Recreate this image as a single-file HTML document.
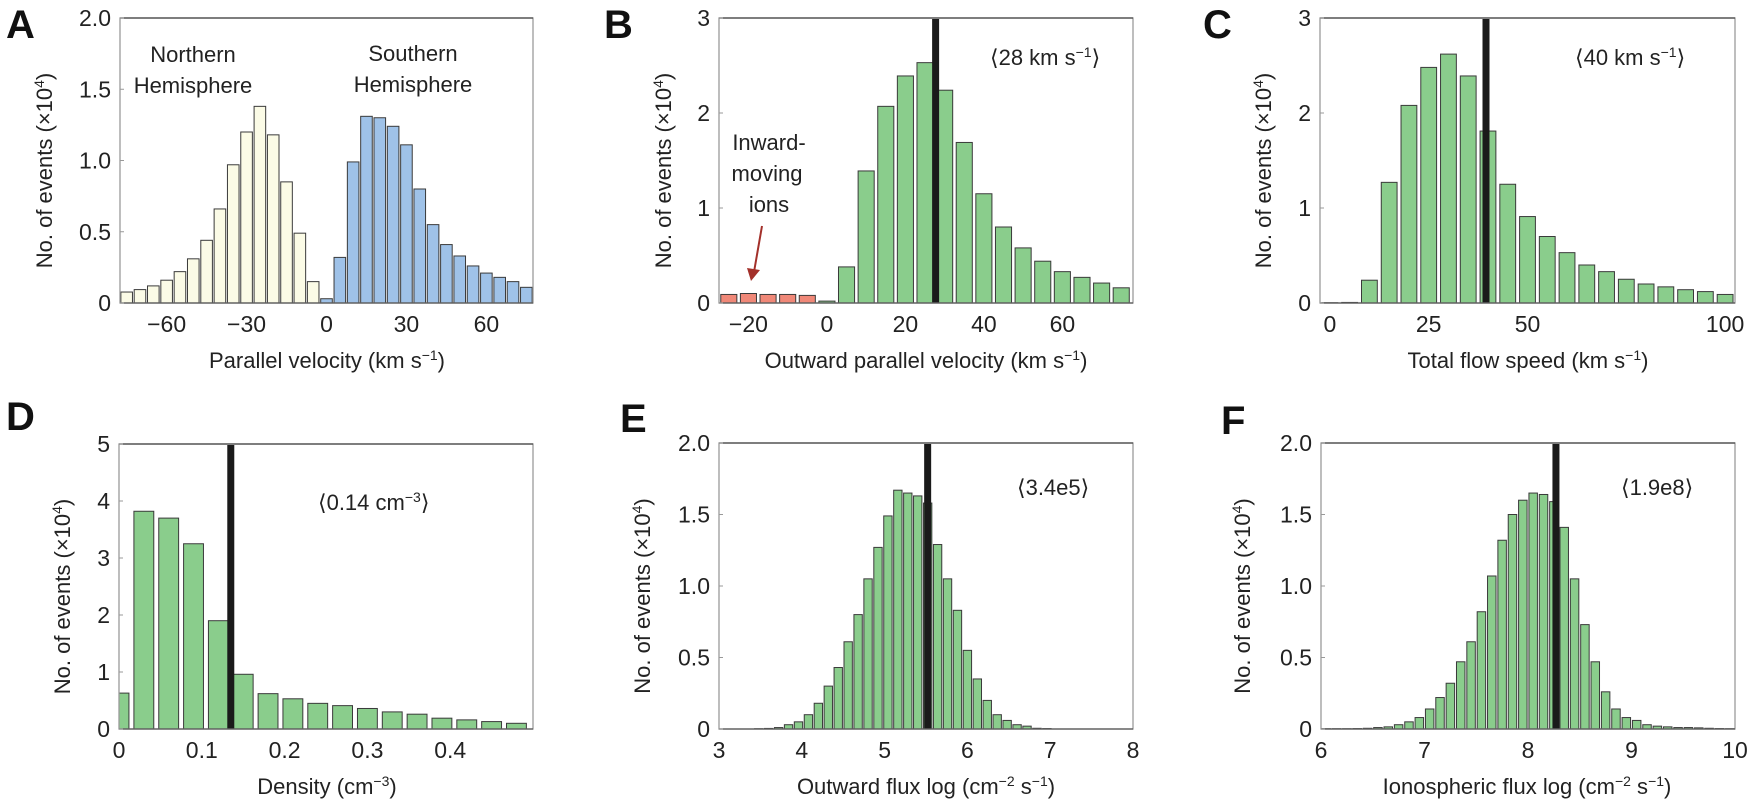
<!DOCTYPE html>
<html><head><meta charset="utf-8"><style>
html,body{margin:0;padding:0;background:#fff;}
svg{display:block;font-family:"Liberation Sans","DejaVu Sans",sans-serif;}
</style></head><body>
<svg id="fig" width="1748" height="804" viewBox="0 0 1748 804" xmlns="http://www.w3.org/2000/svg">
  <g font-size="22" fill="#222">
    <text x="193" y="62" text-anchor="middle">Northern</text>
    <text x="193" y="93" text-anchor="middle">Hemisphere</text>
    <text x="413" y="61" text-anchor="middle">Southern</text>
    <text x="413" y="92" text-anchor="middle">Hemisphere</text>
    <text x="769" y="150" text-anchor="middle">Inward-</text>
    <text x="767" y="181" text-anchor="middle">moving</text>
    <text x="769" y="212" text-anchor="middle">ions</text>
  </g>
  <g>
    <line x1="762" y1="226" x2="754" y2="272" stroke="#a3302a" stroke-width="2"/>
    <polygon points="747,268 760,270 751,281" fill="#a3302a"/>
  </g>
</svg>
<script>
// Panel A
const aNorthBins=[-75,-70,-65,-60,-55,-50,-45,-40,-35,-30,-25,-20,-15,-10,-5];
const aNorthCounts=[0.077,0.094,0.12,0.16,0.22,0.31,0.44,0.66,0.97,1.20,1.38,1.18,0.85,0.49,0.15];
const aSouthBins=[0,5,10,15,20,25,30,35,40,45,50,55,60,65,70,75];
const aSouthCounts=[0.03,0.32,0.99,1.31,1.30,1.24,1.11,0.80,0.55,0.41,0.33,0.26,0.21,0.18,0.15,0.11];
const aXTicks=[-60,-30,0,30,60];
const aYTicks=[0,0.5,1.0,1.5,2.0];
const aYLabels=["0","0.5","1.0","1.5","2.0"];
// Panel B
const bInwardBins=[-25,-20,-15,-10,-5];
const bInwardCounts=[0.09,0.10,0.09,0.09,0.08];
const bOutwardBins=[0,5,10,15,20,25,30,35,40,45,50,55,60,65,70,75];
const bOutwardCounts=[0.02,0.38,1.39,2.07,2.39,2.53,2.24,1.69,1.15,0.80,0.58,0.44,0.33,0.27,0.21,0.16];
const bMean=[27.7];
const bXTicks=[-20,0,20,40,60];
const bYTicks=[0,1,2,3];
// Panel C
const cBins=[0,5,10,15,20,25,30,35,40,45,50,55,60,65,70,75,80,85,90,95,100];
const cCounts=[0.003,0.006,0.24,1.27,2.08,2.48,2.62,2.39,1.81,1.25,0.91,0.70,0.53,0.40,0.33,0.25,0.20,0.17,0.14,0.12,0.09];
const cMean=[39.5];
const cXTicks=[0,25,50,100];
const cYTicks=[0,1,2,3];
// Panel D
const dBins=[0,0.03,0.06,0.09,0.12,0.15,0.18,0.21,0.24,0.27,0.30,0.33,0.36,0.39,0.42,0.45,0.48];
const dCounts=[0.63,3.82,3.70,3.25,1.90,0.96,0.62,0.53,0.45,0.41,0.36,0.30,0.26,0.19,0.16,0.13,0.10];
const dMean=[0.135];
const dXTicks=[0,0.1,0.2,0.3,0.4];
const dYTicks=[0,1,2,3,4,5];
// Panel E
const eBins=[3.48,3.60,3.72,3.84,3.96,4.08,4.20,4.32,4.44,4.56,4.68,4.80,4.92,5.04,5.16,5.28,5.40,5.52,5.64,5.76,5.88,6.00,6.12,6.24,6.36,6.48,6.60,6.72,6.84,6.96];
const eCounts=[0.002,0.004,0.01,0.03,0.05,0.10,0.18,0.30,0.43,0.61,0.80,1.05,1.27,1.49,1.67,1.65,1.63,1.58,1.29,1.05,0.83,0.55,0.35,0.20,0.10,0.06,0.03,0.02,0.005,0.003];
const eMean=[5.52];
const eXTicks=[3,4,5,6,7,8];
const eYTicks=[0,0.5,1.0,1.5,2.0];
const eYLabels=["0","0.5","1.0","1.5","2.0"];
// Panel F
const fBins=[6.05,6.15,6.25,6.35,6.45,6.55,6.65,6.75,6.85,6.95,7.05,7.15,7.25,7.35,7.45,7.55,7.65,7.75,7.85,7.95,8.05,8.15,8.25,8.35,8.45,8.55,8.65,8.75,8.85,8.95,9.05,9.15,9.25,9.35,9.45,9.55,9.65,9.75,9.85,9.95];
const fCounts=[0.002,0.002,0.002,0.003,0.005,0.01,0.015,0.03,0.05,0.08,0.14,0.22,0.32,0.47,0.61,0.82,1.07,1.32,1.50,1.60,1.65,1.64,1.59,1.41,1.05,0.73,0.47,0.26,0.14,0.08,0.06,0.03,0.02,0.015,0.01,0.01,0.008,0.005,0.003,0.002];
const fMean=[8.27];
const fXTicks=[6,7,8,9,10];
const fYTicks=[0,0.5,1.0,1.5,2.0];

const NS="http://www.w3.org/2000/svg";
const svg=document.getElementById('fig');
function mk(tag,attrs,parent){const e=document.createElementNS(NS,tag);for(const k in attrs)e.setAttribute(k,attrs[k]);(parent||svg).appendChild(e);return e;}

function panel(p){
  const g=mk('g',{});
  
  
  const xs=v=>p.L+(v-p.d0)/(p.d1-p.d0)*(p.R-p.L);
  const ys=v=>p.B-v/p.ymax*(p.B-p.T);
  const clip=mk('clipPath',{id:'clip'+p.id},g);
  mk('rect',{x:p.L,y:p.T,width:p.R-p.L,height:p.B-p.T},clip);
  const bars=mk('g',{'clip-path':'url(#clip'+p.id+')'},g);
  p.series.forEach(s=>{
    s.bins.forEach((c,i)=>{
      const x0=xs(c-p.bw*p.frac/2),x1=xs(c+p.bw*p.frac/2);
      const r=mk('rect',{x:x0,y:ys(s.vals[i]),width:x1-x0,height:Math.max(0.5,p.B-ys(s.vals[i])),fill:s.fill,stroke:'#3a3a3a','stroke-width':1},bars);
      
      
    });
  });
  if(p.mean){p.mean.forEach(m=>{
    const ml=mk('rect',{x:xs(m)-3.5,y:p.T+1,width:7,height:p.B-p.T-1,fill:'#1a1a1a'},g);
    
    
  });}
  const fr=mk('rect',{x:p.L,y:p.T,width:p.R-p.L,height:p.B-p.T,fill:'none',stroke:'#9a9a9a','stroke-width':1.3},g);
  
  
  mk('line',{x1:p.L,x2:p.R,y1:p.T,y2:p.T,stroke:'#444','stroke-width':1.3},g);
  mk('line',{x1:p.L,x2:p.R,y1:p.B,y2:p.B,stroke:'#555','stroke-width':1.3},g);
  p.yt.forEach((v,i)=>{
    mk('line',{x1:p.L,x2:p.L+4,y1:ys(v),y2:ys(v),stroke:'#999','stroke-width':1},g);
    const t=mk('text',{x:p.L-9,y:ys(v)+8,'text-anchor':'end','font-size':23,fill:'#222'},g);
    t.textContent=p.yl?p.yl[i]:String(v);
    
    
  });
  p.xt.forEach(v=>{
    const t=mk('text',{x:xs(v),y:p.B+29,'text-anchor':'middle','font-size':23,fill:'#222'},g);
    t.textContent=(v<0?'\u2212'+(-v):String(v));
    
    
  });
  const yt=mk('text',{x:0,y:0,transform:'translate('+p.ytx+','+((p.T+p.B)/2+10)+') rotate(-90)','text-anchor':'middle','font-size':22,fill:'#222'},g);
  yt.innerHTML='No. of events (\u00d710<tspan dy="-8" font-size="14">4</tspan><tspan dy="8">)</tspan>';
  
  
  const xt=mk('text',{x:p.xtx,y:p.B+65,'text-anchor':'middle','font-size':22,fill:'#222'},g);
  xt.innerHTML=p.xtitle;
  
  
  const lt=mk('text',{x:p.lx,y:p.ly,'font-size':40,'font-weight':'bold',fill:'#111'},g);
  lt.textContent=p.id;
  
  
  if(p.ann){const at=mk('text',{x:p.ann[0],y:p.ann[1],'font-size':22,fill:'#222'},g);at.innerHTML=p.ann[2];
    
    }
  return g;
}
const GREEN='#8acd8c';
const S='<tspan dy="-8" font-size="14">';
panel({id:'A',L:120,R:533,T:18,B:303,d0:-77.5,d1:77.5,ymax:2,bw:5,frac:0.87,
  series:[{name:'northern',bins:aNorthBins,vals:aNorthCounts,fill:'#fbfbe6'},{name:'southern',bins:aSouthBins,vals:aSouthCounts,fill:'#9fc2e8'}],
  xt:aXTicks,yt:aYTicks,yl:aYLabels,ytx:52,xtx:327,xtitle:'Parallel velocity (km s'+S+'\u22121</tspan><tspan dy="8">)</tspan>',lx:6,ly:38});
panel({id:'B',L:719,R:1133,T:18,B:303,d0:-27.5,d1:78,ymax:3,bw:5,frac:0.82,
  series:[{name:'inward',bins:bInwardBins,vals:bInwardCounts,fill:'#f08878'},{name:'outward',bins:bOutwardBins,vals:bOutwardCounts,fill:GREEN}],
  mean:bMean,xt:bXTicks,yt:bYTicks,ytx:671,xtx:926,xtitle:'Outward parallel velocity (km s'+S+'\u22121</tspan><tspan dy="8">)</tspan>',lx:604,ly:38,
  ann:[990,65,'\u27e828 km s'+S+'\u22121</tspan><tspan dy="8">\u27e9</tspan>']});
panel({id:'C',L:1320,R:1735,T:18,B:303,d0:-2.5,d1:102.5,ymax:3,bw:5,frac:0.8,
  series:[{name:'flow-speed',bins:cBins,vals:cCounts,fill:GREEN}],
  mean:cMean,xt:cXTicks,yt:cYTicks,ytx:1271,xtx:1528,xtitle:'Total flow speed (km s'+S+'\u22121</tspan><tspan dy="8">)</tspan>',lx:1203,ly:38,
  ann:[1575,65,'\u27e840 km s'+S+'\u22121</tspan><tspan dy="8">\u27e9</tspan>']});
panel({id:'D',L:119,R:533,T:444,B:729,d0:0,d1:0.5,ymax:5,bw:0.03,frac:0.8,
  series:[{name:'density',bins:dBins,vals:dCounts,fill:GREEN}],
  mean:dMean,xt:dXTicks,yt:dYTicks,ytx:70,xtx:327,xtitle:'Density (cm'+S+'\u22123</tspan><tspan dy="8">)</tspan>',lx:6,ly:430,
  ann:[318,510,'\u27e80.14 cm'+S+'\u22123</tspan><tspan dy="8">\u27e9</tspan>']});
panel({id:'E',L:719,R:1133,T:443,B:729,d0:3,d1:8,ymax:2,bw:0.12,frac:0.84,
  series:[{name:'outward-flux',bins:eBins,vals:eCounts,fill:GREEN}],
  mean:eMean,xt:eXTicks,yt:eYTicks,yl:eYLabels,ytx:650,xtx:926,xtitle:'Outward flux log (cm'+S+'\u22122</tspan><tspan dy="8"> s</tspan>'+S+'\u22121</tspan><tspan dy="8">)</tspan>',lx:620,ly:432,
  ann:[1017,495,'\u27e83.4e5\u27e9']});
panel({id:'F',L:1321,R:1735,T:443,B:729,d0:6,d1:10,ymax:2,bw:0.1,frac:0.82,
  series:[{name:'ionospheric-flux',bins:fBins,vals:fCounts,fill:GREEN}],
  mean:fMean,xt:fXTicks,yt:fYTicks,yl:eYLabels,ytx:1250,xtx:1527,xtitle:'Ionospheric flux log (cm'+S+'\u22122</tspan><tspan dy="8"> s</tspan>'+S+'\u22121</tspan><tspan dy="8">)</tspan>',lx:1221,ly:434,
  ann:[1621,495,'\u27e81.9e8\u27e9']});
</script>
</body></html>
